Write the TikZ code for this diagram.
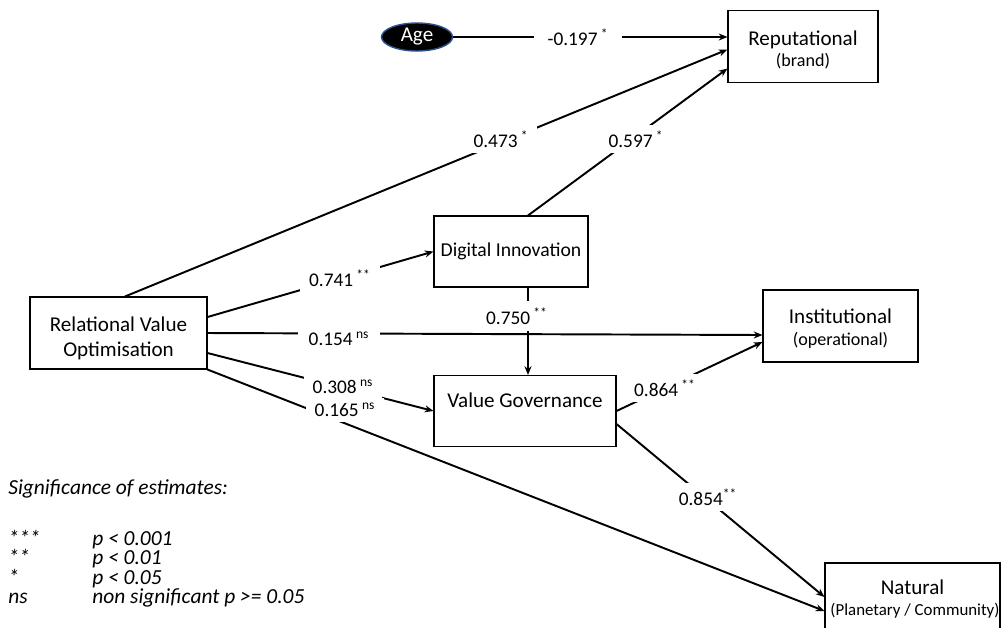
\documentclass[tikz,border=0pt]{standalone}
\usepackage{fontspec}
\setmainfont{Carlito}
\usetikzlibrary{shapes.geometric,arrows.meta}
\definecolor{agerim}{HTML}{2F528F}
\newcommand\subsize{\fontsize{10.3}{12}\selectfont}
\newcommand\lift[1]{\rule{0pt}{#1}}
\newcommand\keyfont{\fontsize{12.2}{11.1}\selectfont\itshape\lineskiplimit -20pt\relax}
\begin{document}
\begin{tikzpicture}[x=0.02cm,y=-0.02cm,
  box/.style={draw, line width=0.6pt, align=center, font=\fontsize{12}{14.5}\selectfont, inner sep=0pt},
  path/.style={line width=1.1pt, -{Stealth[length=5pt,width=4pt]}},
  est/.style={fill=white, inner xsep=5pt, inner ysep=3pt, font=\fontsize{11}{13}\selectfont},
  legend/.style={anchor=base west, inner sep=0pt, align=left, font=\keyfont}]
\useasboundingbox (0,0) rectangle (1001,627);
\begin{scope}
\clip (0,0) rectangle (1001,627);

% constructs
\node[box, minimum width=3cm, minimum height=1.44cm] (rep) at (803,46.5)
  {\lift{12pt}Reputational\\[-2.5pt]{\subsize (brand)}};
\node[ellipse, draw=agerim, fill=black, text=white, line width=0.8pt,
  minimum width=1.42cm, minimum height=0.56cm, inner sep=0pt,
  font=\fontsize{12}{14}\selectfont] (age) at (417,37) {Age};
\node[box, minimum width=3.08cm, minimum height=1.42cm,
  font=\fontsize{11.2}{13}\selectfont] (di) at (511,251.5)
  {Digital Innovation};
\node[box, minimum width=3.1cm, minimum height=1.44cm] (inst) at (840.5,326)
  {\lift{11pt}Institutional\\[-2pt]{\subsize (operational)}};
\node[box, minimum width=3.64cm, minimum height=1.42cm] (vg) at (525,411)
  {Value Governance\rule[-12pt]{0pt}{0pt}};
\node[box, minimum width=3.5cm, minimum height=1.44cm] (nat) at (912.5,599)
  {Natural\\[-3pt]{\fontsize{9.6}{11}\selectfont\makebox[0pt]{\hspace{0.1cm}(Planetary / Community)}}};
\node[box, minimum width=3.54cm, minimum height=1.44cm] (rvo) at (118.5,333)
  {\lift{14.5pt}Relational Value\\Optimisation};

% structural paths
\draw[path] (age.east) -- (age.east -| rep.west);
\draw[path] ([xshift=0.13cm]rvo.north) -- ([yshift=-0.06cm]rep.west);
\draw[path] ([xshift=0.34cm]di.north) -- ([yshift=-0.44cm]rep.west);
\draw[path] ([yshift=0.32cm]rvo.east) -- (di.west);
\draw[path] (rvo.east) -- ([yshift=-0.18cm]inst.west);
\draw[path] ([xshift=0.34cm]di.south) -- ([xshift=0.06cm]vg.north);
\draw[path] ([yshift=-0.4cm]rvo.east) -- (vg.west);
\draw[path] (rvo.south east) -- ([yshift=-0.24cm]nat.west);
\draw[path] (vg.east) -- ([yshift=-0.32cm]inst.west);
\draw[path] ([yshift=-0.26cm]vg.east) -- ([yshift=0.04cm]nat.west);

% estimates
\node[est, inner xsep=8pt] (e1) at (578,37) {-0.197\,\textsuperscript{*}};
\node[est] (e2) at (501,139) {0.473\,\textsuperscript{*}};
\node[est] (e3) at (636,139) {0.597\,\textsuperscript{*}};
\node[est] (e4) at (340,278) {0.741\,\textsuperscript{**}};
\node[est, inner xsep=6pt] (e5) at (339,339) {0.154\,\textsuperscript{ns}};
\node[est, inner ysep=4pt] (e6) at (517,316) {0.750\,\textsuperscript{**}};
\node[est] (e7) at (343,387) {0.308\,\textsuperscript{ns}};
\node[est] (e8) at (345,410) {0.165\,\textsuperscript{ns}};
\node[est] (e9) at (665,388) {0.864\,\textsuperscript{**}};
\node[est] (e10) at (708,497) {0.854\textsuperscript{**}};
\end{scope}

% significance key
\node[legend] (key) at (8,494) {Significance of estimates:};
\node[legend] (levels) at (8,603.5)
  {\makebox[1.68cm][l]{***}p < 0.001\\
   \makebox[1.68cm][l]{**}p < 0.01\\
   \makebox[1.68cm][l]{*}p < 0.05\\
   \makebox[1.68cm][l]{ns}non significant p >= 0.05};
\end{tikzpicture}
\end{document}
